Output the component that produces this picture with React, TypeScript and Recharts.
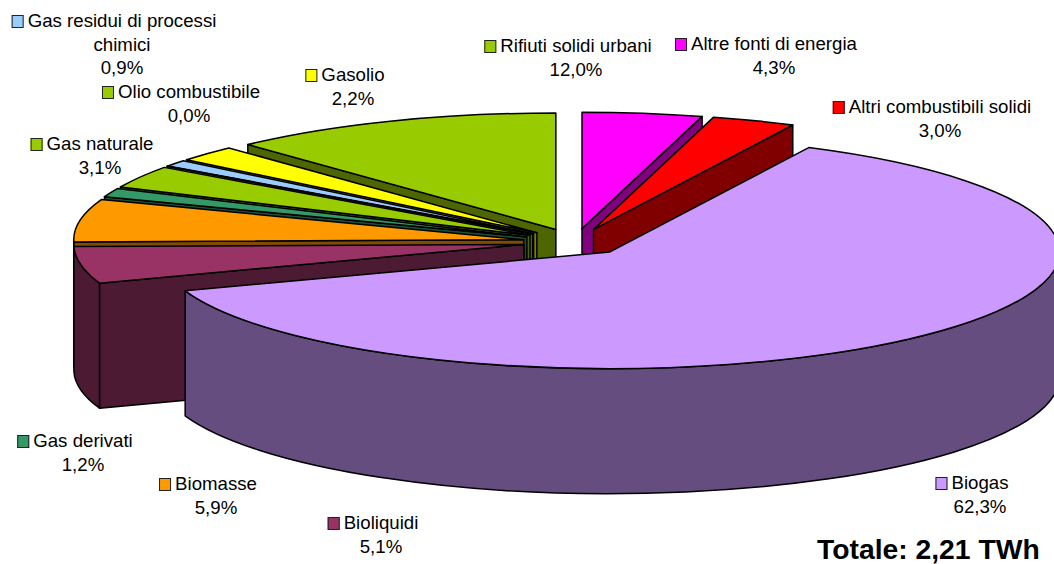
import { PieChart, Pie } from 'recharts'

const categories = [
  'Altre fonti di energia',
  'Altri combustibili solidi',
  'Biogas',
  'Bioliquidi',
  'Biomasse',
  'Gas derivati',
  'Gas naturale',
  'Olio combustibile',
  'Gas residui di processi chimici',
  'Gasolio',
  'Rifiuti solidi urbani',
]
const shares = [4.3, 3.0, 62.3, 5.1, 5.9, 1.2, 3.1, 0.0, 0.9, 2.2, 12.0]
const colors = [
  '#FF00FF', '#FF0000', '#CC99FF', '#993366', '#FF9900', '#339966',
  '#99CC00', '#99CC00', '#99CCFF', '#FFFF00', '#99CC00',
]

// painter's order: back slices first, biogas sits on top of everything
const drawOrder = [10, 9, 8, 7, 6, 5, 4, 3, 0, 1, 2]

// centre x of the name text, y of the first line
const labelPos = [
  [774, 44], [940, 107], [980, 483], [381, 523], [216, 484], [83, 441],
  [100, 144], [189, 92], [122, 21], [353, 75], [576, 46],
]
const nameLines: Record<number, string[]> = { 8: ['Gas residui di processi', 'chimici'] }

const W = 1054
const H = 564
const CX = 575
const CY = 242
const RX = 450
const RY = 116.5
const DEPTH = 125
const EXPLODE = 52
const FONT = '"Liberation Sans", Arial, sans-serif'

const chartData = categories.map((name, i) => ({ name, value: shares[i], color: colors[i], idx: i }))

function darken(hex: string) {
  const n = parseInt(hex.slice(1), 16)
  const f = (v: number) => Math.round(v * 0.5).toString(16).padStart(2, '0')
  return `#${f((n >> 16) & 255)}${f((n >> 8) & 255)}${f(n & 255)}`
}

const rad = (d: number) => (d * Math.PI) / 180

// one exploded slice in fake 3D: recharts gives the angles, we squash them
function Slice({ startAngle, endAngle, fill }: { startAngle: number; endAngle: number; fill: string }) {
  const t0 = 90 - startAngle
  const t1 = 90 - endAngle
  const mid = rad((t0 + t1) / 2)
  const ox = CX + EXPLODE * Math.sin(mid)
  const oy = CY - (EXPLODE * RY * Math.cos(mid)) / RX
  const pt = (t: number) => [ox + RX * Math.sin(rad(t)), oy - RY * Math.cos(rad(t))]
  const [ax, ay] = pt(t0)
  const [bx, by] = pt(t1)
  const large = t1 - t0 > 180 ? 1 : 0
  const dark = darken(fill)
  const line = { stroke: '#000', strokeWidth: 1.5, strokeLinejoin: 'round' as const }

  const face = (x: number, y: number) =>
    `M${ox},${oy}L${x},${y}L${x},${y + DEPTH}L${ox},${oy + DEPTH}Z`

  // outer wall, only the part that faces us
  const w0 = Math.max(t0, 90)
  const w1 = Math.min(t1, 270)
  let wall = null
  if (w1 > w0) {
    const [px, py] = pt(w0)
    const [qx, qy] = pt(w1)
    const big = w1 - w0 > 180 ? 1 : 0
    wall = `M${px},${py}A${RX},${RY} 0 ${big} 1 ${qx},${qy}L${qx},${qy + DEPTH}A${RX},${RY} 0 ${big} 0 ${px},${py + DEPTH}Z`
  }

  return (
    <g>
      {Math.sin(rad(t0)) < -0.001 && <path d={face(ax, ay)} fill={dark} {...line} />}
      {Math.sin(rad(t1)) > 0.001 && <path d={face(bx, by)} fill={dark} {...line} />}
      {wall && <path d={wall} fill={dark} {...line} />}
      <path d={`M${ox},${oy}L${ax},${ay}A${RX},${RY} 0 ${large} 1 ${bx},${by}Z`} fill={fill} {...line} />
    </g>
  )
}

function Label({ i }: { i: number }) {
  const [x, y] = labelPos[i]
  const lines = nameLines[i] || [categories[i]]
  const all = [...lines, shares[i].toFixed(1).replace('.', ',') + '%']
  const common = { position: 'absolute' as const, whiteSpace: 'nowrap' as const, transform: 'translate(-50%, -50%)', left: x }
  return (
    <>
      {all.map((t, k) => (
        <div key={k} style={{ ...common, top: y + k * 23.5 }}>
          {k === 0 && (
            <span
              style={{
                position: 'absolute',
                left: -16.5,
                top: 5,
                width: 12.5,
                height: 12.5,
                boxSizing: 'border-box',
                background: colors[i],
                border: '1.5px solid #222',
              }}
            />
          )}
          {t}
        </div>
      ))}
    </>
  )
}

export default function App() {
  return (
    <div style={{ position: 'absolute', left: 0, top: 0, width: W, height: H, background: '#fff', overflow: 'hidden', fontFamily: FONT, fontSize: 18.67, color: '#000' }}>
      <PieChart width={W} height={H} margin={{ top: 0, right: 0, bottom: 0, left: 0 }}>
        {drawOrder.map((layer) => {
          const shape = (p: any) =>
            p.payload.idx === layer ? (
              <Slice startAngle={p.startAngle} endAngle={p.endAngle} fill={p.payload.color} />
            ) : (
              <g />
            )
          return (
            <Pie
              key={layer}
              data={chartData}
              dataKey="value"
              nameKey="name"
              cx={CX}
              cy={CY}
              outerRadius={RX}
              startAngle={90}
              endAngle={-270}
              stroke="none"
              isAnimationActive={false}
              shape={shape}
              inactiveShape={shape}
            />
          )
        })}
      </PieChart>
      {categories.map((_, i) => (
        <Label key={i} i={i} />
      ))}
      <div style={{ position: 'absolute', left: 817, top: 536, fontSize: 28.3, lineHeight: '27px', fontWeight: 700, whiteSpace: 'nowrap' }}>
        Totale: 2,21 TWh
      </div>
    </div>
  )
}
